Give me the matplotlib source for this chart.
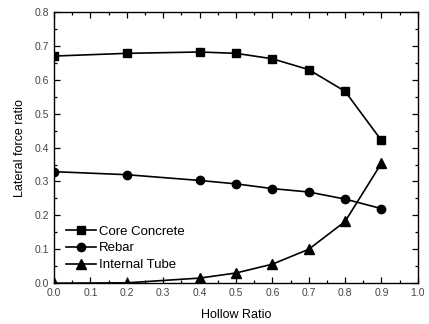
import numpy as np
import matplotlib.pyplot as plt
from matplotlib.ticker import MultipleLocator

plt.rcParams['font.family'] = ['Liberation Sans', 'DejaVu Sans']

hollow = [0.0, 0.2, 0.4, 0.5, 0.6, 0.7, 0.8, 0.9]
core_concrete = [0.670, 0.678, 0.682, 0.678, 0.662, 0.630, 0.566, 0.421]
rebar = [0.329, 0.320, 0.303, 0.293, 0.279, 0.269, 0.248, 0.220]
internal_tube = [0.0, 0.001, 0.015, 0.030, 0.056, 0.100, 0.182, 0.354]

fig = plt.figure(figsize=(4.29, 3.24), dpi=100)
ax = fig.add_axes([0.126, 0.126, 0.848, 0.837])

ax.plot(hollow, core_concrete, 'k-', marker='s', markersize=6, lw=1.2, label='Core Concrete')
ax.plot(hollow, rebar, 'k-', marker='o', markersize=6, lw=1.2, label='Rebar')
ax.plot(hollow, internal_tube, 'k-', marker='^', markersize=6.5, lw=1.2, label='Internal Tube')

ax.set_xlim(0, 1.0)
ax.set_ylim(0, 0.8)
ax.xaxis.set_major_locator(MultipleLocator(0.1))
ax.xaxis.set_minor_locator(MultipleLocator(0.05))
ax.yaxis.set_major_locator(MultipleLocator(0.1))
ax.yaxis.set_minor_locator(MultipleLocator(0.05))
ax.tick_params(which='both', direction='in', top=True, right=True,
               labelsize=7.5, labelcolor='#444444', width=0.9)
ax.tick_params(which='major', length=4)
ax.tick_params(which='minor', length=2.5)
ax.xaxis.set_major_formatter(plt.FormatStrFormatter('%.1f'))
ax.yaxis.set_major_formatter(plt.FormatStrFormatter('%.1f'))
for s in ax.spines.values():
    s.set_linewidth(1.0)

ax.set_xlabel('Hollow Ratio', fontsize=9, labelpad=8)
ax.set_ylabel('Lateral force ratio', fontsize=9, labelpad=6)

ax.legend(loc='lower left', bbox_to_anchor=(0.0, 0.0), frameon=False,
          fontsize=9.5, handlelength=2.3, handletextpad=0.2, labelspacing=0.35)

fig.savefig('out.png', dpi=100)
